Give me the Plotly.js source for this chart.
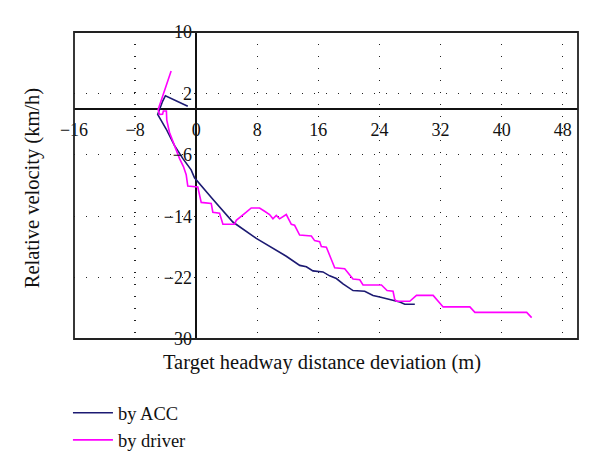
<!DOCTYPE html>
<html>
<head>
<meta charset="utf-8">
<script src="https://cdn.plot.ly/plotly-3.0.1.min.js"></script>
<style>html,body{margin:0;padding:0;background:#fff;}#chart{width:600px;height:471px;}</style>
</head>
<body>
<div id="chart"></div>
<script>
// ACC trajectory (target headway distance deviation in m, relative velocity in km/h)
var accX = [-1.1, -4.03, -4.4, -4.94, -5.04, -4.8, -3.93, -2.85, -2.19, -1.76, -0.66, -0.22, 2.18, 4.8, 7.87, 11.8, 13.56, 14.43, 15.29, 16.6, 17.48, 18.36, 19.23, 20.54, 22.07, 23.16, 24.04, 24.92, 26.0, 26.66, 27.32, 28.63];
var accY = [0.33, 1.7, 0.97, -0.3, -0.73, -1.15, -2.64, -4.77, -5.83, -6.47, -7.96, -9.0, -11.79, -14.76, -16.89, -19.22, -20.41, -20.59, -21.13, -21.26, -21.77, -22.12, -22.83, -23.69, -23.78, -24.32, -24.54, -24.74, -24.96, -25.18, -25.47, -25.47];

// Driver trajectory
var drvX = [-3.28, -4.03, -4.46, -4.81, -4.98, -4.81, -4.4, -4.3, -3.9, -3.85, -3.5, -2.85, -2.19, -1.67, -1.31, -1.1, 0.21, 0.66, 1.97, 2.18, 3.06, 3.5, 5.02, 5.25, 6.11, 6.56, 7.21, 8.3, 8.96, 9.61, 10.05, 10.49, 10.92, 11.8, 12.46, 12.89, 13.55, 15.08, 15.51, 16.17, 16.39, 17.05, 17.7, 18.14, 19.45, 20.54, 21.42, 21.85, 24.26, 25.0, 25.78, 26.0, 26.23, 27.97, 28.85, 31.03, 32.34, 35.84, 36.5, 43.28, 43.93];
var drvY = [4.92, 2.68, 1.4, 0.55, -0.09, -0.73, -0.7, -0.3, -0.3, -1.5, -3.06, -4.77, -6.47, -7.53, -8.6, -10.08, -10.2, -12.2, -12.33, -13.48, -13.61, -15.05, -15.05, -14.54, -13.9, -13.48, -12.93, -12.93, -13.35, -13.78, -14.34, -13.9, -14.34, -13.78, -15.05, -15.18, -16.45, -16.58, -17.18, -17.31, -17.95, -18.04, -19.64, -20.71, -20.84, -22.19, -22.28, -22.96, -22.96, -23.69, -23.78, -24.83, -25.09, -25.09, -24.32, -24.32, -25.82, -25.82, -26.53, -26.53, -27.22];

var xTicks = [-16, -8, 0, 8, 16, 24, 32, 40, 48];
var yTicks = [10, 2, -6, -14, -22, -30];

var serif = 'Liberation Serif, Times New Roman, serif';
function fmt(v) { return v < 0 ? '\u2212' + Math.abs(v) : String(v); }

var traces = [
  {x: accX, y: accY, type: 'scatter', mode: 'lines', name: 'by ACC',
   line: {color: '#1c1a72', width: 1.6}},
  {x: drvX, y: drvY, type: 'scatter', mode: 'lines', name: 'by driver',
   line: {color: '#ff00ff', width: 1.6}}
];

var layout = {
  width: 600, height: 471,
  margin: {l: 74, r: 22, t: 32, b: 128},
  paper_bgcolor: '#fff', plot_bgcolor: '#fff',
  font: {family: serif, size: 18, color: '#111'},
  showlegend: true,
  legend: {x: -0.012, y: -0.18, xanchor: 'left', yanchor: 'top',
           font: {family: serif, size: 18.5, color: '#111'}, itemwidth: 40,
           bgcolor: 'rgba(0,0,0,0)'},
  xaxis: {range: [-16, 50], anchor: 'free', position: 0.75,
          tickmode: 'array', tickvals: xTicks, ticktext: xTicks.map(fmt),
          ticks: '', ticklabelstandoff: 8,
          showgrid: true, gridcolor: '#222', griddash: '1px,11px', gridwidth: 1.2,
          zeroline: true, zerolinecolor: '#111', zerolinewidth: 1.5,
          showline: false, tickfont: {family: serif, size: 18, color: '#111'}},
  yaxis: {range: [-30, 10], anchor: 'free', position: 0.25,
          tickmode: 'array', tickvals: yTicks, ticktext: yTicks.map(fmt),
          ticks: '', ticklabelstandoff: 8,
          showgrid: true, gridcolor: '#222', griddash: '1px,11px', gridwidth: 1.2,
          zeroline: true, zerolinecolor: '#111', zerolinewidth: 1.5,
          showline: false, tickfont: {family: serif, size: 18, color: '#111'}},
  shapes: [{type: 'rect', xref: 'paper', yref: 'paper', x0: 0, x1: 1, y0: 0, y1: 1,
            line: {color: '#222', width: 1.8}, layer: 'above'}],
  annotations: [
    {text: 'Target headway distance deviation (m)', xref: 'paper', yref: 'paper',
     x: 0.493, y: -0.078, xanchor: 'center', yanchor: 'middle', showarrow: false,
     font: {family: serif, size: 20.5, color: '#111'}},
    {text: 'Relative velocity (km/h)', xref: 'paper', yref: 'paper',
     x: -0.082, y: 0.49, xanchor: 'center', yanchor: 'middle', textangle: -90, showarrow: false,
     font: {family: serif, size: 20.5, color: '#111'}}
  ]
};

Plotly.newPlot('chart', traces, layout, {displayModeBar: false, staticPlot: true});
</script>
</body>
</html>
